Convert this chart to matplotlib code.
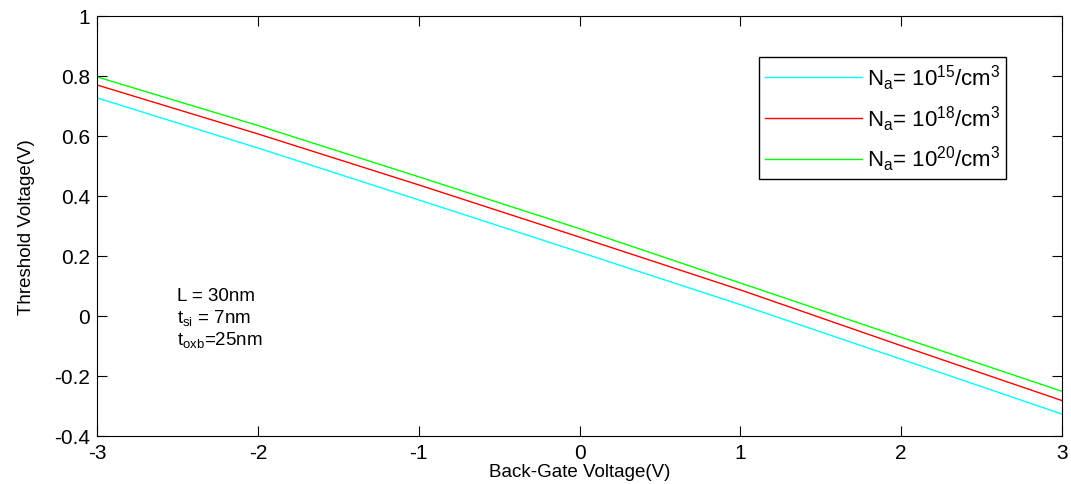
import matplotlib.pyplot as plt

plt.rcParams["font.family"] = ["Liberation Sans", "DejaVu Sans"]
plt.rcParams["mathtext.default"] = "regular"
plt.rcParams["axes.unicode_minus"] = False

vbg = [-3, -2, -1, 0, 1, 2, 3]
vt_15 = [0.727, 0.560, 0.387, 0.213, 0.038, -0.144, -0.327]
vt_18 = [0.770, 0.607, 0.437, 0.263, 0.087, -0.099, -0.282]
vt_20 = [0.797, 0.635, 0.464, 0.291, 0.110, -0.071, -0.251]

params = ["L = 30nm", "$t_{si}$ = 7nm", "$t_{oxb}$=25nm"]

fig = plt.figure(figsize=(10.71, 4.85), dpi=100)
ax = fig.add_axes([0.0906, 0.099, 0.901, 0.866])

ax.plot(vbg, vt_15, color="#00ffff", linewidth=1, label="N$_a$= 10$^{15}$/cm$^3$")
ax.plot(vbg, vt_18, color="#ff0000", linewidth=1, label="N$_a$= 10$^{18}$/cm$^3$")
ax.plot(vbg, vt_20, color="#00ff00", linewidth=1, label="N$_a$= 10$^{20}$/cm$^3$")

ax.set_xlim(-3, 3)
ax.set_ylim(-0.4, 1)
ax.set_xticks([-3, -2, -1, 0, 1, 2, 3])
ax.set_yticks([-0.4, -0.2, 0, 0.2, 0.4, 0.6, 0.8, 1])
ax.set_yticklabels(["-0.4", "-0.2", "0", "0.2", "0.4", "0.6", "0.8", "1"])
ax.tick_params(direction="in", top=True, right=True, labelsize=15, length=7, pad=5)
ax.set_xlabel("Back-Gate Voltage(V)", fontsize=13.5, labelpad=1)
ax.set_ylabel("Threshold Voltage(V)", fontsize=13.5, labelpad=14)

for i, s in enumerate(params):
    ax.text(-2.5, 0.067 - 0.072 * i, s, fontsize=13.5, va="center", ha="left")

leg = ax.legend(loc="upper right", bbox_to_anchor=(0.942, 0.902), fontsize=16,
                fancybox=False, edgecolor="black", framealpha=1,
                handlelength=4.4, handletextpad=0.2, labelspacing=0.5,
                borderpad=0.25, borderaxespad=0)
leg.get_frame().set_linewidth(1)

fig.savefig("out.png", dpi=100)
